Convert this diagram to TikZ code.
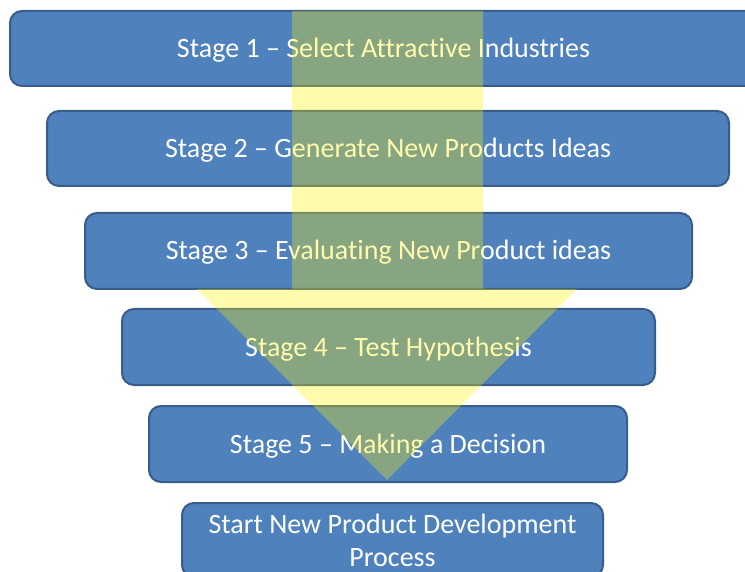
\documentclass[tikz,border=0pt]{standalone}
\usepackage{fontspec}
\setmainfont{Carlito}[Ligatures=NoCommon]
\definecolor{boxfill}{RGB}{79,129,189}
\definecolor{boxline}{RGB}{56,93,138}
\tikzset{
  stagebox/.style={draw=boxline, line width=2pt, fill=boxfill, rounded corners=12pt,
    text=white, font=\fontsize{28}{33}\selectfont, align=center, inner sep=0pt},
  oneline/.style={text height=20pt, text depth=2pt},
  funnelarrow/.style={fill=yellow, fill opacity=0.32, draw=none}
}
\begin{document}
\begin{tikzpicture}[x=1pt,y=-1pt]
\useasboundingbox (0,0) rectangle (745,572);
\clip (0,0) rectangle (745,572);
\node[stagebox, oneline, minimum width=747pt, minimum height=75pt] (s1) at (383.5,48.5) {Stage 1 – Select Attractive Industries};
\node[stagebox, oneline, minimum width=682pt, minimum height=75pt] (s2) at (388,148.5) {Stage 2 – Generate New Products Ideas};
\node[stagebox, oneline, minimum width=607pt, minimum height=76pt] (s3) at (388.5,251) {Stage 3 – Evaluating New Product ideas};
\node[stagebox, oneline, minimum width=533pt, minimum height=76pt] (s4) at (388.5,347) {Stage 4 – Test Hypothesis};
\node[stagebox, oneline, minimum width=478pt, minimum height=76pt] (s5) at (388,444) {Stage 5 – Making a Decision};
\node[stagebox, minimum width=421pt, minimum height=74pt] (s6) at (392.5,540) {Start New Product Development\\Process};
\path[funnelarrow] (292,11) -- (483,11) -- (483,289) -- (577,289) -- (387,480) -- (197,289) -- (292,289) -- cycle;
\end{tikzpicture}
\end{document}
